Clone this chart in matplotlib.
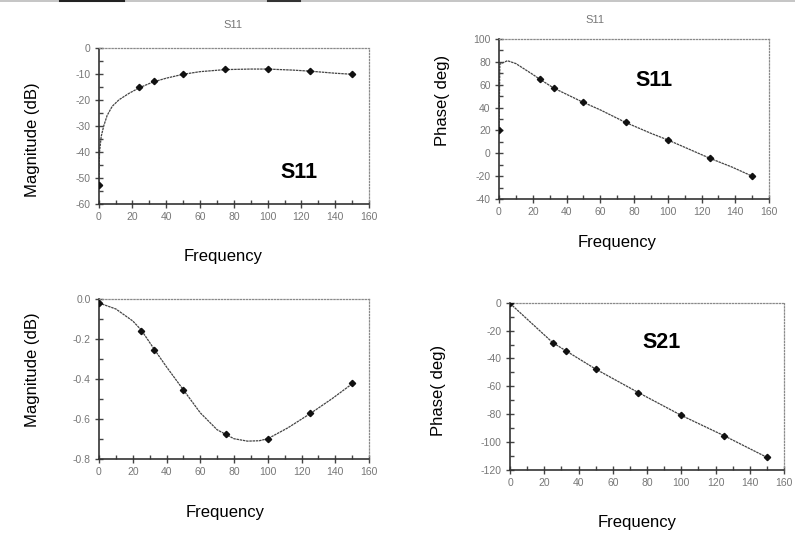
#!/usr/bin/env python3

import matplotlib

matplotlib.use("Agg")
import matplotlib.pyplot as plt
from matplotlib.ticker import MultipleLocator

plt.rcParams["axes.unicode_minus"] = False

# S11 magnitude (dB): measured points and simulated curve
S11_MAG_F = [0, 24, 32.5, 50, 75, 100, 125, 150]
S11_MAG = [-52.7, -15.2, -12.8, -10.0, -8.3, -8.2, -9.0, -10.1]
S11_MAG_CURVE_F = [0, 0.5, 1.5, 3, 5, 8, 12, 18, 24, 32, 40, 50, 60, 75, 90, 100, 115, 125, 140, 150]
S11_MAG_CURVE = [-52.7, -40, -34, -30, -26, -22.5, -20, -17.5, -15.4, -13.2, -11.7, -10.2,
                 -9.2, -8.4, -8.2, -8.2, -8.6, -9.0, -9.8, -10.2]

# S11 phase (deg)
S11_PH_F = [0, 24, 32.5, 50, 75, 100, 125, 150]
S11_PH = [20.4, 65.0, 56.9, 45.2, 27.1, 11.7, -4.4, -19.8]
S11_PH_CURVE_F = [0, 0.5, 5, 10, 20, 24, 32.5, 49, 60, 75, 90, 100, 112, 125, 138, 150]
S11_PH_CURVE = [20.4, 78, 81, 78.5, 69, 65, 57, 45.2, 38, 27, 17.5, 11.7, 4, -4.4, -12, -20]

# S21 magnitude (dB)
S21_MAG_F = [0, 25, 32.5, 50, 75, 100, 125, 150]
S21_MAG = [-0.02, -0.159, -0.254, -0.455, -0.678, -0.700, -0.572, -0.422]
S21_MAG_CURVE_F = [0, 10, 20, 25, 33, 40, 50, 60, 70, 80, 88, 95, 100, 112, 125, 138, 150]
S21_MAG_CURVE = [-0.02, -0.05, -0.11, -0.155, -0.255, -0.34, -0.455, -0.57, -0.655, -0.70,
                 -0.712, -0.71, -0.70, -0.645, -0.575, -0.50, -0.425]

# S21 phase (deg)
S21_PH_F = [0, 25, 32.5, 50, 75, 100, 125, 150]
S21_PH = [-0.5, -28.7, -34.4, -47.6, -64.5, -80.8, -95.4, -110.9]

W, H = 795, 534
LINE_COLOR = "#444444"
TICK_COLOR = "#777777"
FONT = ["Liberation Sans", "DejaVu Sans"]


def px(x, y):
    return x / W, 1 - y / H


def rect(left, top, right, bottom):
    return (left / W, 1 - bottom / H, (right - left) / W, (bottom - top) / H)


def style_axis(ax, ylim, ymajor, yminor):
    ax.set_xlim(0, 160)
    ax.set_ylim(*ylim)
    ax.xaxis.set_major_locator(MultipleLocator(20))
    ax.xaxis.set_minor_locator(MultipleLocator(10))
    ax.yaxis.set_major_locator(MultipleLocator(ymajor))
    ax.yaxis.set_minor_locator(MultipleLocator(yminor))
    ax.tick_params(which="major", direction="inout", length=6, width=1,
                   color=LINE_COLOR, labelcolor=TICK_COLOR, labelsize=7.5, pad=3)
    ax.tick_params(which="minor", direction="in", length=3, width=1, color=LINE_COLOR)
    for side, spine in ax.spines.items():
        if side in ("left", "bottom"):
            spine.set_linestyle((0, (1, 1)))
            spine.set_color("#333333")
            spine.set_linewidth(1.2)
        else:
            spine.set_linestyle((0, (1, 1.5)))
            spine.set_color("#8a8a8a")
            spine.set_linewidth(0.9)
    for label in ax.get_xticklabels() + ax.get_yticklabels():
        label.set_family(FONT)


def plot_series(ax, cf, cv, f, v):
    ax.plot(cf, cv, color=LINE_COLOR, linewidth=0.9, linestyle=(0, (2, 0.6)), zorder=2)
    ax.plot(f, v, linestyle="none", marker="D", markersize=3.2, color="#111111", zorder=3)


fig = plt.figure(figsize=(W / 100, H / 100), dpi=100, facecolor="white")

# top edge of the scanned page
fig.add_artist(plt.Line2D([0, 1], [0.998, 0.998], color="#bbbbbb", linewidth=1.2))
fig.add_artist(plt.Line2D([60 / W, 124 / W], [0.998, 0.998], color="#222222", linewidth=1.5))
fig.add_artist(plt.Line2D([268 / W, 300 / W], [0.998, 0.998], color="#333333", linewidth=1.5))

# top left: S11 magnitude
ax1 = fig.add_axes(rect(98.7, 47.7, 369, 204))
plot_series(ax1, S11_MAG_CURVE_F, S11_MAG_CURVE, S11_MAG_F, S11_MAG)
style_axis(ax1, (-60, 0), 10, 5)

# top right: S11 phase
ax2 = fig.add_axes(rect(499, 39, 769, 199))
plot_series(ax2, S11_PH_CURVE_F, S11_PH_CURVE, S11_PH_F, S11_PH)
style_axis(ax2, (-40, 100), 20, 10)

# bottom left: S21 magnitude
ax3 = fig.add_axes(rect(99, 299, 369, 458.7))
plot_series(ax3, S21_MAG_CURVE_F, S21_MAG_CURVE, S21_MAG_F, S21_MAG)
style_axis(ax3, (-0.8, 0.0), 0.2, 0.1)
ax3.yaxis.set_major_formatter(lambda v, pos: f"{v:.1f}")

# bottom right: S21 phase
ax4 = fig.add_axes(rect(510, 302.7, 784, 470))
plot_series(ax4, S21_PH_F, S21_PH, S21_PH_F, S21_PH)
style_axis(ax4, (-120, 0), 20, 10)

# titles
fig.text(*px(233, 25), "S11", ha="center", va="center", fontsize=8, color="#777777", family=FONT)
fig.text(*px(595, 20), "S11", ha="center", va="center", fontsize=8, color="#777777", family=FONT)

# big labels inside panels
big = dict(ha="center", va="center", fontsize=15.5, fontweight="bold", color="black", family=FONT)
fig.text(*px(299, 172), "S11", **big)
fig.text(*px(654, 81), "S11", **big)
fig.text(*px(662, 342), "S21", **big)

# axis labels
lab = dict(ha="center", va="center", fontsize=12, color="black", family=FONT)
fig.text(*px(32, 140), "Magnitude (dB)", rotation=90, **lab)
fig.text(*px(443, 100), "Phase( deg)", rotation=90, **lab)
fig.text(*px(32, 370), "Magnitude (dB)", rotation=90, **lab)
fig.text(*px(438, 390), "Phase( deg)", rotation=90, **lab)
fig.text(*px(223, 257), "Frequency", **lab)
fig.text(*px(617, 243), "Frequency", **lab)
fig.text(*px(225, 513), "Frequency", **lab)
fig.text(*px(637, 523), "Frequency", **lab)

fig.savefig("out.png", dpi=100, facecolor="white")
plt.close(fig)
